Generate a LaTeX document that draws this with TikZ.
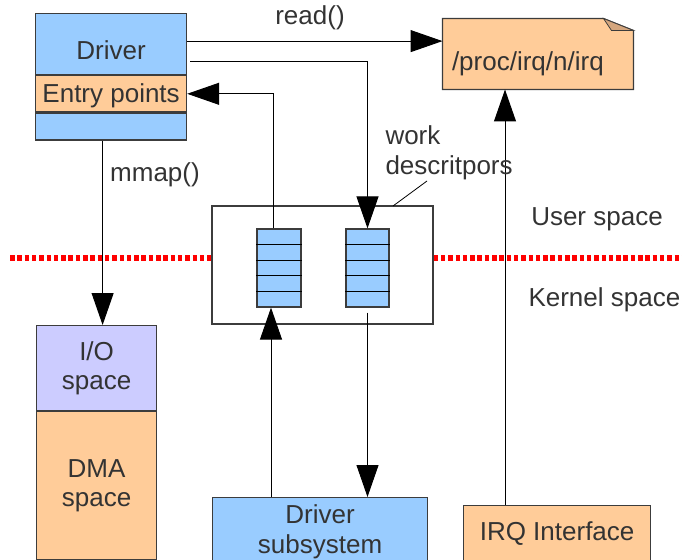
\documentclass[tikz,border=0pt]{standalone}
\usepackage{fontspec}
\setmainfont{Liberation Sans}
\usetikzlibrary{positioning}
\usetikzlibrary{calc}
\usetikzlibrary{arrows.meta}

\definecolor{drvblue}{RGB}{153,204,255}
\definecolor{entryorange}{RGB}{255,204,153}
\definecolor{iolilac}{RGB}{204,204,255}
\definecolor{foldtan}{RGB}{212,166,126}
\definecolor{labelgray}{RGB}{51,51,51}
\definecolor{edgegray}{RGB}{60,60,60}

\begin{document}
\begin{tikzpicture}[x=1pt,y=-1pt,line width=1pt,
  every node/.style={font=\fontsize{26}{29.5}\selectfont, text=labelgray},
  blockbox/.style={draw=edgegray, line width=1.2pt, inner sep=0pt, align=center},
  arr/.style={-{Triangle[length=32pt,width=22pt]}, line width=1pt},
  lbl/.style={inner sep=0pt},
  spaceline/.style={red, line width=6pt, dash pattern=on 4.5pt off 2.8pt}]

  \useasboundingbox (0,0) rectangle (682,559);

  % Driver with its entry points
  \node[blockbox, fill=drvblue, minimum width=151pt, minimum height=61pt,
        text height=30pt, text depth=0pt, anchor=north west] (driver) at (35,13) {Driver};
  \node[blockbox, fill=entryorange, minimum width=151pt, minimum height=36pt,
        text height=22pt, text depth=4pt, anchor=north] (entry) at (driver.south) {Entry points};
  \node[blockbox, fill=drvblue, minimum width=151pt, minimum height=27pt,
        anchor=north] (drvfoot) at (entry.south) {};

  % /proc/irq/n/irq file with its folded corner
  \node[minimum width=190pt, minimum height=70pt, inner sep=0pt] (proc) at (538,54) {};
  \draw[edgegray, line width=1.2pt, fill=entryorange]
    (proc.north west) -- ([xshift=-30pt]proc.north east)
    -- ([yshift=-12pt]proc.north east) -- (proc.south east)
    -- (proc.south west) -- cycle;
  \draw[edgegray, line width=0.8pt, fill=foldtan]
    ([xshift=-30pt]proc.north east) -- ([xshift=-22pt,yshift=-12pt]proc.north east)
    -- ([yshift=-12pt]proc.north east) -- cycle;
  \node[lbl, anchor=west] (proctxt) at ([xshift=9pt,yshift=-10pt]proc.west) {/proc/irq/n/irq};

  % work queues inside the frame
  \node[draw=edgegray, line width=1.2pt, minimum width=221pt, minimum height=118pt] (frame) at (322.5,265) {};
  \node[blockbox, fill=drvblue, minimum width=44pt, minimum height=78pt] (q1) at (279,268) {};
  \node[blockbox, fill=drvblue, minimum width=43pt, minimum height=78pt] (q2) at (367.5,268) {};
  \foreach \q in {q1,q2}
    \foreach \i in {1,...,4}
      \draw ($(\q.north west)!\i/5!(\q.south west)$) -- ($(\q.north east)!\i/5!(\q.south east)$);

  % memory regions
  \node[blockbox, fill=iolilac, minimum width=120pt, minimum height=85pt,
        anchor=north west] (io) at (36,325) {I/O\\space};
  \node[blockbox, fill=entryorange, minimum width=120pt, minimum height=148pt,
        anchor=north] (dma) at (io.south) {DMA\\space};

  % kernel side blocks
  \node[blockbox, fill=drvblue, minimum width=215pt, minimum height=68pt,
        anchor=north west] (sub) at (212,497) {Driver\\subsystem};
  \node[blockbox, fill=entryorange, minimum width=187pt, minimum height=56pt,
        anchor=north west] (irq) at (463,505) {IRQ Interface};

  % user/kernel boundary
  \coordinate (bndl) at (10,258);
  \coordinate (bndr) at (682,258);
  \draw[spaceline] (bndl) -- (frame.west |- bndl);
  \draw[spaceline] (frame.east |- bndr) -- (bndr);

  % connectors
  \coordinate (wq) at (190,62);
  \coordinate (irqx) at (505,0);
  \draw[arr] ([yshift=3pt]driver.east) -- ([yshift=3pt]driver.east -| proc.west);
  \draw[arr] (wq) -| (q2.north);
  \draw[arr] ([xshift=-6pt]q1.north) |- (entry.east);
  \draw[arr] ([xshift=-8pt]q1.south |- sub.north) -- ([xshift=-8pt]q1.south);
  \draw[arr] ([yshift=-5pt]q2.south) -- (q2.south |- sub.north);
  \draw[arr] (irq.north -| irqx) -- (proc.south -| irqx);
  \draw[arr] ([xshift=6pt]io.north |- drvfoot.south) -- ([xshift=6pt]io.north);

  % labels
  \node[lbl] (readlbl) at (310,18) {read()};
  \node[lbl] (mmaplbl) at (155,175) {mmap()};
  \node[lbl, align=left, anchor=west] (wdlbl) at (385,153) {work\\descritpors};
  \coordinate (wdtip) at (427,181);
  \coordinate (wdfoot) at (393,206);
  \draw[line width=0.8pt] (wdtip) -- (wdfoot);
  \node[lbl] (userlbl) at (597,219) {User space};
  \node[lbl, anchor=west] (kernlbl) at (528,300) {Kernel space};

\end{tikzpicture}
\end{document}
